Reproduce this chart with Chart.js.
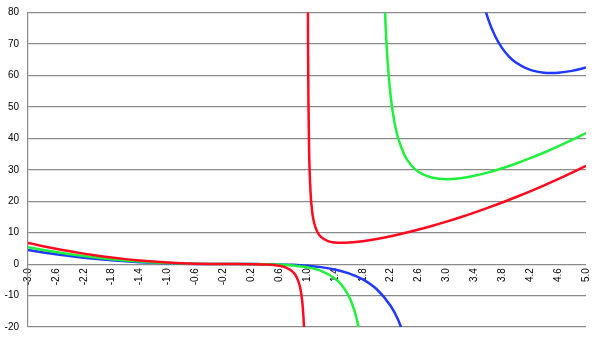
<!DOCTYPE html>
<html>
<head>
<meta charset="utf-8">
<script src="https://cdn.jsdelivr.net/npm/chart.js@4"></script>
<style>
  html, body { margin: 0; padding: 0; background: #fff; }
  #wrap { width: 600px; height: 340px; }
</style>
</head>
<body>
<div id="wrap"><canvas id="curves"></canvas></div>
<script>
// valores (null = corte en la asintota)
const redX = [-3.0, -2.8, -2.6, -2.4, -2.2, -2.0, -1.8, -1.6, -1.4, -1.2, -1.0, -0.8, -0.6, -0.4, -0.2, 0, 0.2, 0.4, 0.6, 0.7, 0.8, 0.85, 0.9, 0.93, 0.95, 0.96, 0.97,
  1.0, 1.01, 1.015, 1.02, 1.03, 1.05, 1.075, 1.1, 1.15, 1.2, 1.3, 1.4, 1.5, 1.6, 1.8, 2.0, 2.2, 2.4, 2.6, 2.8, 3.0, 3.2, 3.4, 3.6, 3.8, 4.0, 4.2, 4.4, 4.6, 4.8, 5.0];
const redY = [6.75, 5.78, 4.88, 4.07, 3.33, 2.67, 2.08, 1.58, 1.14, 0.79, 0.5, 0.28, 0.14, 0.05, 0.01, 0, -0.01, -0.11, -0.54, -1.14, -2.56, -4.09, -7.29, -11.49, -17.15, -22.12, -30.4,
  null, 103.0, 69.7, 53.06, 36.4, 23.15, 16.56, 13.31, 10.14, 8.64, 7.32, 6.86, 6.75, 6.83, 7.29, 8.0, 8.87, 9.87, 10.99, 12.2, 13.5, 14.9, 16.38, 17.95, 19.6, 21.33, 23.15, 25.05, 27.04, 29.1, 31.25];

const greenX = [-3.0, -2.8, -2.6, -2.4, -2.2, -2.0, -1.8, -1.6, -1.4, -1.2, -1.0, -0.8, -0.6, -0.4, -0.2, 0, 0.2, 0.4, 0.6, 0.8, 1.0, 1.2, 1.4, 1.5, 1.6, 1.65, 1.7, 1.75, 1.8,
  2.0, 2.05, 2.08, 2.1, 2.12, 2.15, 2.2, 2.25, 2.3, 2.4, 2.5, 2.6, 2.8, 3.0, 3.2, 3.4, 3.6, 3.8, 4.0, 4.2, 4.4, 4.6, 4.8, 5.0];
const greenY = [5.4, 4.57, 3.82, 3.14, 2.54, 2.0, 1.53, 1.14, 0.81, 0.54, 0.33, 0.18, 0.08, 0.03, 0.0, 0, 0.0, -0.04, -0.15, -0.43, -1.0, -2.16, -4.57, -6.75, -10.24, -12.84, -16.38, -21.44, -29.16,
  null, 172.3, 112.5, 92.61, 79.4, 66.25, 53.24, 45.56, 40.56, 34.56, 31.25, 29.29, 27.44, 27.0, 27.31, 28.07, 29.16, 30.48, 32.0, 33.68, 35.49, 37.44, 39.5, 41.67];

const blueX = [-3.0, -2.8, -2.6, -2.4, -2.2, -2.0, -1.8, -1.6, -1.4, -1.2, -1.0, -0.8, -0.6, -0.4, -0.2, 0, 0.2, 0.4, 0.6, 0.8, 1.0, 1.2, 1.4, 1.6, 1.8, 2.0, 2.2, 2.3, 2.4,
  3.0, 3.3, 3.4, 3.5, 3.6, 3.7, 3.8, 3.9, 4.0, 4.2, 4.4, 4.5, 4.6, 4.8, 5.0];
const blueY = [4.5, 3.79, 3.14, 2.56, 2.05, 1.6, 1.22, 0.89, 0.62, 0.41, 0.25, 0.13, 0.06, 0.02, 0.0, 0, 0.0, -0.02, -0.09, -0.23, -0.5, -0.96, -1.72, -2.93, -4.86, -8.0, -13.31, -17.38, -23.04,
  null, 119.8, 98.26, 85.75, 77.76, 72.36, 68.59, 65.91, 64.0, 61.74, 60.85, 60.75, 60.84, 61.44, 62.5];

const xMin = -3.0, xMax = 5.0, xStep = 0.4;
const yMin = -20, yMax = 80, yStep = 10;

function toPoints(xs, ys) {
    return xs.map((x, i) => ({ x: x, y: ys[i] }));
}

function serie(label, xs, ys, color) {
    return {
        label: label,
        data: toPoints(xs, ys),
        borderColor: color,
        borderWidth: 2.5,
        pointRadius: 0,
        fill: false,
        spanGaps: false,
        cubicInterpolationMode: 'monotone',
        clip: 0
    };
}

// quita el margen extra que Chart.js reserva para las etiquetas de los extremos
function sinDesborde(s) {
    s.paddingTop = 0;
    s.paddingBottom = 0;
    s.paddingLeft = 0;
    s.paddingRight = 0;
}

const fuente = { family: 'Liberation Sans', size: 10 };

new Chart(document.getElementById('curves'), {
    type: 'line',
    data: {
        datasets: [
            serie('rojo', redX, redY, '#ff0a1e'),
            serie('verde', greenX, greenY, '#1ef03c'),
            serie('azul', blueX, blueY, '#2038ff')
        ]
    },
    options: {
        responsive: true,
        maintainAspectRatio: false,
        animation: false,
        layout: { padding: { top: 12.5, right: 14, bottom: 13, left: 0 } },
        plugins: {
            legend: { display: false },
            tooltip: { enabled: false }
        },
        scales: {
            x: {
                type: 'linear',
                position: { y: 0 },
                min: xMin,
                max: xMax,
                grid: { display: false, drawTicks: false },
                border: { display: false },
                ticks: {
                    stepSize: xStep,
                    minRotation: 90,
                    maxRotation: 90,
                    autoSkip: false,
                    padding: 4,
                    color: '#000',
                    font: fuente,
                    callback: v => Number(v).toFixed(1)
                },
                afterFit: sinDesborde
            },
            y: {
                min: yMin,
                max: yMax,
                grid: { color: '#8a8a8a', lineWidth: 1.2, drawTicks: false },
                border: { color: '#8a8a8a', width: 1.2 },
                ticks: {
                    stepSize: yStep,
                    padding: 9,
                    color: '#000',
                    font: fuente
                },
                afterFit: s => { sinDesborde(s); s.width = 28; }
            }
        }
    }
});
</script>
</body>
</html>
